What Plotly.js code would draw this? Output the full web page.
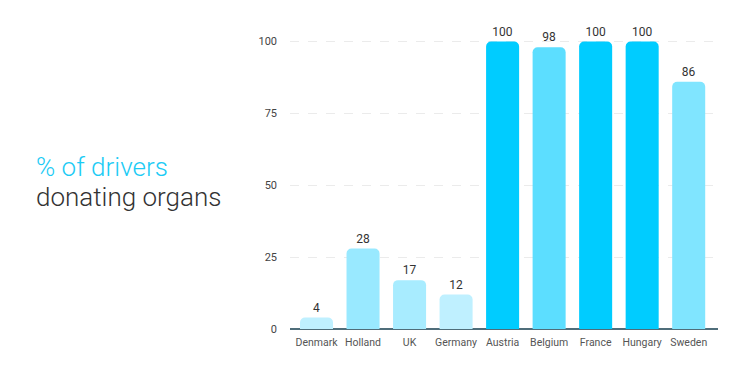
<!DOCTYPE html>
<html>
<head>
<meta charset="utf-8">
<script src="https://cdn.plot.ly/plotly-3.0.1.min.js"></script>
<style>html,body{margin:0;padding:0;background:#fff;}#chart{width:750px;height:376px;}</style>
</head>
<body>
<div id="chart"></div>
<script>
const countries = ["Denmark","Holland","UK","Germany","Austria","Belgium","France","Hungary","Sweden"];
const donorPct = [4, 28, 17, 12, 100, 98, 100, 100, 86];
const barColors = ["#BFF0FF","#99E9FF","#A8ECFF","#BFF0FF","#00CCFF","#5CDEFF","#00CCFF","#00CCFF","#80E5FF"];
const yTicks = [0, 25, 50, 75, 100];

const trace = {
  type: "bar",
  x: countries,
  y: donorPct,
  marker: {color: barColors, cornerradius: 5},
  text: donorPct.map(String),
  textposition: "outside",
  textfont: {family: "Roboto", size: 12, color: "#333"},
  cliponaxis: false,
  hoverinfo: "none"
};

const layout = {
  width: 750, height: 376,
  margin: {l: 290, r: 32, t: 30, b: 47},
  paper_bgcolor: "#fff", plot_bgcolor: "#fff",
  bargap: 0.29,
  showlegend: false,
  font: {family: "Roboto", color: "#444"},
  xaxis: {
    range: [-0.57, 8.63],
    showgrid: false, zeroline: false,
    showline: false,
    ticks: "",
    ticklabelstandoff: 5,
    tickfont: {family: "Roboto", size: 10.5, color: "#555"},
    fixedrange: true
  },
  yaxis: {
    range: [0, 104],
    tickvals: yTicks,
    ticktext: yTicks.map(String),
    showgrid: true, gridcolor: "#ebebeb", griddash: "dash", gridwidth: 1,
    zeroline: true, zerolinecolor: "#4F6D7A", zerolinewidth: 2,
    showline: false, ticks: "",
    ticklabelstandoff: 12,
    tickfont: {family: "Roboto", size: 11, color: "#444"},
    fixedrange: true
  },
  annotations: [
    {xref: "paper", yref: "paper", x: -0.598, y: 0.542, xanchor: "left", yanchor: "middle",
     text: "% of drivers", showarrow: false,
     font: {family: "Roboto", size: 26, color: "#1CCBF5", weight: 300}},
    {xref: "paper", yref: "paper", x: -0.598, y: 0.441, xanchor: "left", yanchor: "middle",
     text: "donating organs", showarrow: false,
     font: {family: "Roboto", size: 26, color: "#333", weight: 300}}
  ]
};

Plotly.newPlot("chart", [trace], layout, {displayModeBar: false, staticPlot: true});
</script>
</body>
</html>
